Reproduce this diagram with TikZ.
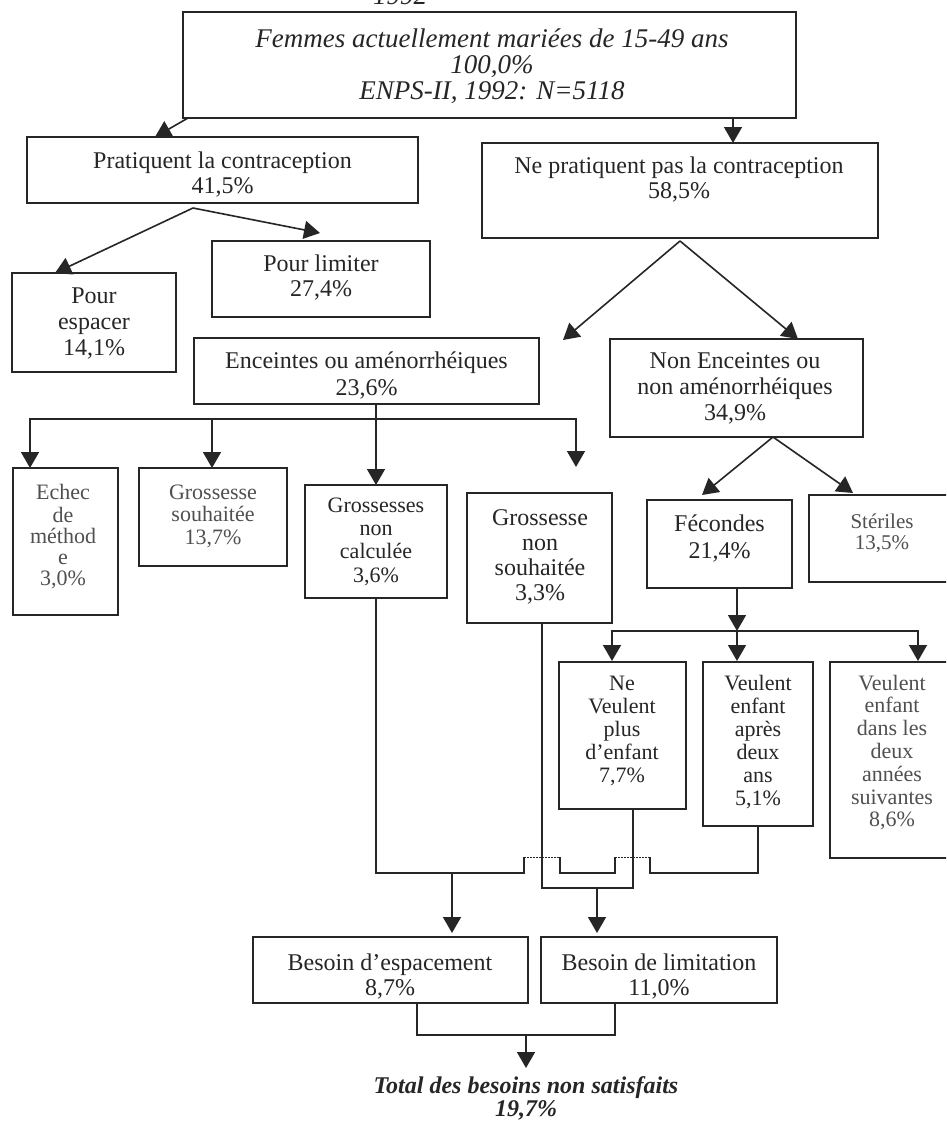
\documentclass[tikz,border=0pt]{standalone}
\usepackage{fontspec}
\setmainfont{Liberation Serif}
\usetikzlibrary{arrows.meta,calc}
\definecolor{ink}{HTML}{262626}
\definecolor{pale}{HTML}{505050}
\newcommand\mkbox[5]{\node[bx,minimum width={(#4)-(#2)},minimum height={(#5)-(#3)}] (#1) at ({((#2)+(#4))/2},{((#3)+(#5))/2}) {};}
\begin{document}
\begin{tikzpicture}[x=1pt,y=-1pt,
  bx/.style={draw=ink,line width=1.6pt,inner sep=0pt,outer sep=0pt},
  tx/.style={align=center,inner sep=0pt,text=ink,anchor=north},
  light/.style={text=pale},
  fs/.style 2 args={font=\fontsize{#1}{#2}\selectfont},
  ln/.style={draw=ink,line width=1.6pt},
  arr/.style={draw=ink,line width=1.6pt,-{Triangle[width=18pt,length=16pt]}},
  dotl/.style={draw=ink,line width=0.9pt,dash pattern=on 1.5pt off 1.5pt}]
\useasboundingbox (0,0) rectangle (946,1122);
\clip (0,0) rectangle (946,1122);
\fill[white] (0,0) rectangle (946,1122);

% ---------- boxes ----------
\mkbox{top}{183}{12}{796}{118}
\mkbox{pc}{27}{137}{418}{203}
\mkbox{np}{482}{143}{878}{238}
\mkbox{pe}{12}{273}{176}{372}
\mkbox{pl}{212}{241}{430}{317}
\mkbox{en}{194}{338}{539}{404}
\mkbox{ne}{610}{339}{863}{437}
\mkbox{ech}{13}{468}{118}{615}
\mkbox{gs}{139}{468}{287}{566}
\mkbox{gnc}{305}{485}{447}{598}
\mkbox{gns}{467}{493}{612}{623}
\mkbox{fec}{647}{500}{792}{588}
\mkbox{ster}{809}{495}{955}{582}
\mkbox{nv}{559}{662}{686}{809}
\mkbox{va}{703}{662}{813}{826}
\mkbox{vd}{830}{662}{955}{858}
\mkbox{be}{253}{937}{528}{1003}
\mkbox{bl}{541}{937}{777}{1003}

% ---------- texts ----------
\node[tx,fs={27}{26}] (yr) at (400,-14) {\itshape\strut 1992};
\node[tx,fs={27}{26}] (ttop) at (492,28.5) {\itshape\strut Femmes actuellement mariées de 15-49 ans\\\itshape 100,0\%\\\itshape ENPS-II, 1992: N=5118};
\node[tx,fs={24}{25}] (tpc) at (222.5,150.5) {\strut Pratiquent la contraception\\41,5\%};
\node[tx,fs={24}{25}] (tnp) at (679,155.5) {\strut Ne pratiquent pas la contraception\\58,5\%};
\node[tx,fs={24}{26}] (tpe) at (94,284.8) {\strut Pour\\espacer\\14,1\%};
\node[tx,fs={24}{25}] (tpl) at (321,253.5) {\strut Pour limiter\\27,4\%};
\node[tx,fs={24}{27}] (ten) at (366.5,349.1) {\strut Enceintes ou aménorrhéiques\\23,6\%};
\node[tx,fs={24}{26}] (tne) at (735,349.8) {\strut Non Enceintes ou\\non aménorrhéiques\\34,9\%};
\node[tx,light,fs={22}{21}] (tech) at (63,484.3) {\strut Echec\\de\\méthod\\e\\3,0\%};
\node[tx,light,fs={22}{22.5}] (tgs) at (213,483.3) {\strut Grossesse\\souhaitée\\13,7\%};
\node[tx,fs={22}{23.3}] (tgnc) at (376,495.7) {\strut Grossesses\\non\\calculée\\3,6\%};
\node[tx,fs={24}{25}] (tgns) at (540,507.5) {\strut Grossesse\\non\\souhaitée\\3,3\%};
\node[tx,fs={24}{27}] (tfec) at (719.5,512.1) {\strut Fécondes\\21,4\%};
\node[tx,light,fs={21}{21}] (tster) at (882,514) {\strut Stériles\\13,5\%};
\node[tx,fs={22}{23}] (tnv) at (622,674) {\strut Ne\\Veulent\\plus\\d'enfant\\7,7\%};
\node[tx,fs={22}{23}] (tva) at (758,674) {\strut Veulent\\enfant\\après\\deux\\ans\\5,1\%};
\node[tx,light,fs={22}{22.8}] (tvd) at (892,674) {\strut Veulent\\enfant\\dans les\\deux\\années\\suivantes\\8,6\%};
\node[tx,fs={24}{25}] (tbe) at (390,952.5) {\strut Besoin d'espacement\\8,7\%};
\node[tx,fs={24}{25}] (tbl) at (659,952.5) {\strut Besoin de limitation\\11,0\%};
\node[tx,fs={24}{21}] (ttot) at (526,1076) {\bfseries\itshape\strut Total des besoins non satisfaits\\\bfseries\itshape 19,7\%};

% ---------- connectors ----------
% top level
\draw[arr] ($(top.south west)+(5,0)$) -- ($(pc.north west)+(128,0)$);
\draw[arr] ($(top.south west)+(550,0)$) -- ($(np.north west)+(251,0)$);
% pratiquent
\coordinate (pcj) at ($(pc.south west)+(166,5)$);
\draw[arr] (pcj) -- ($(pe.north west)+(43,0)$);
\draw[arr] (pcj) -- ($(pl.north west)+(108,-8)$);
% ne pratiquent pas
\coordinate (npj) at ($(np.south west)+(198,3)$);
\draw[arr] (npj) -- ($(en.north east)+(24,2)$);
\draw[arr] (npj) -- ($(ne.north west)+(188,0)$);
% enceintes
\coordinate (eb) at ($(en.south west)+(182,15)$);
\draw[ln] ($(en.south west)+(182,0)$) -- (eb);
\draw[arr] (eb) -| ($(ech.north west)+(17,0)$);
\draw[arr] (eb) -| ($(gs.north west)+(73,0)$);
\draw[arr] (eb) -- (gnc.north);
\draw[arr] (eb) -| ($(gns.north west)+(109,-26)$);
% non enceintes
\coordinate (nej) at ($(ne.south west)+(163,0)$);
\draw[arr] (nej) -- ($(fec.north west)+(55,-5)$);
\draw[arr] (nej) -- ($(ster.north west)+(44,-2)$);
% fecondes
\coordinate (fb) at ($(fec.south west)+(90,43)$);
\draw[arr] ($(fec.south west)+(90,0)$) -- (fb);
\draw[arr] (fb) -- ($(va.north west)+(34,-1)$);
\draw[arr] (fb) -| ($(nv.north west)+(53,-1)$);
\draw[arr] (fb) -| ($(vd.north west)+(88,-1)$);
% spacing bus with hops
\coordinate (busL) at ($(gnc.south)+(0,275)$);
\draw[ln] (gnc.south) -- (busL) -- ++(148,0) -- ++(0,-16)
  ++(36,0) -- ++(0,16) -- ++(55,0) -- ++(0,-16)
  ++(35,0) -- ++(0,16) -- (va.south |- busL) -- (va.south);
\draw[dotl] ($(busL)+(148,-16)$) -- ++(36,0);
\draw[dotl] ($(busL)+(239,-16)$) -- ++(35,0);
\draw[arr] ($(busL)+(76,0)$) -- ($(be.north west)+(199,-4)$);
% limitation bus
\coordinate (gnsb) at ($(gns.south west)+(75,0)$);
\coordinate (busR) at ($(gnsb)+(0,265)$);
\draw[ln] (gnsb) -- (busR) -| ($(nv.south west)+(74,0)$);
\draw[arr] ($(busR)+(55,0)$) -- ($(bl.north west)+(56,-4)$);
% total
\coordinate (bj) at ($(be.south west)+(164,32)$);
\draw[ln] ($(be.south west)+(164,0)$) -- (bj) -| ($(bl.south west)+(74,0)$);
\draw[arr] ($(bj)+(109,0)$) -- ($(ttot.north)+(0,-8)$);
\end{tikzpicture}
\end{document}
